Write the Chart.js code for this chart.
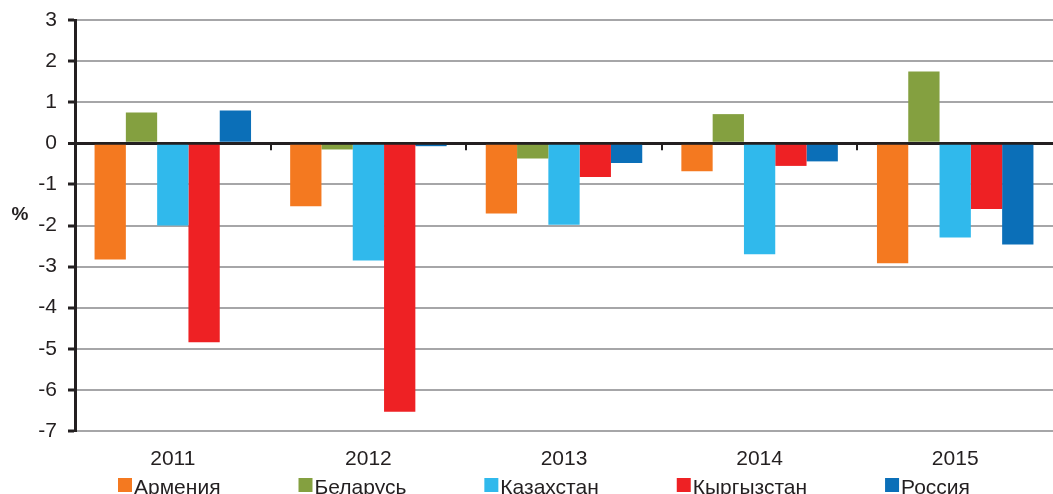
<!DOCTYPE html>
<html>
<head>
<meta charset="utf-8">
<script src="https://cdn.jsdelivr.net/npm/chart.js@4.4.1/dist/chart.umd.min.js"></script>
<style>
  html, body { margin: 0; padding: 0; background: #fff; overflow: hidden; }
  #wrap { position: relative; width: 1053px; height: 494px; }
</style>
</head>
<body>
<div id="wrap"><canvas id="chart"></canvas></div>
<script>
// ── Data ─────────────────────────────────────────
const years = ['2011', '2012', '2013', '2014', '2015'];
const armenia    = [-2.83, -1.53, -1.71, -0.68, -2.92];
const belarus    = [0.75, -0.15, -0.37, 0.71, 1.75];
const kazakhstan = [-2.0, -2.85, -1.98, -2.7, -2.29];
const kyrgyzstan = [-4.84, -6.53, -0.82, -0.55, -1.6];
const russia     = [0.8, -0.07, -0.48, -0.44, -2.46];
const yTicks = [3, 2, 1, 0, -1, -2, -3, -4, -5, -6, -7];

const FONT = "'Liberation Sans', Arial, sans-serif";
const INK = '#231f20';

// ── Extra marks: "%" label, boundary ticks, bottom legend ──
const extras = {
    id: 'extras',
    afterDraw(chart) {
        const { ctx, scales: { x, y } } = chart;
        const zeroY = y.getPixelForValue(0);
        ctx.save();

        // short ticks on the zero line between year groups
        ctx.strokeStyle = INK;
        ctx.lineWidth = 2;
        for (let i = 1; i < years.length; i++) {
            const bx = Math.round((x.getPixelForValue(i - 1) + x.getPixelForValue(i)) / 2);
            ctx.beginPath();
            ctx.moveTo(bx, zeroY);
            ctx.lineTo(bx, zeroY + 7);
            ctx.stroke();
        }

        // axis unit
        ctx.fillStyle = INK;
        ctx.font = 'bold 19px ' + FONT;
        ctx.textAlign = 'center';
        ctx.textBaseline = 'middle';
        ctx.fillText('%', 20, 215);

        // legend row along the bottom edge
        ctx.font = '21px ' + FONT;
        ctx.textAlign = 'left';
        ctx.textBaseline = 'alphabetic';
        let lx = 118;
        const baseY = 494;
        chart.data.datasets.forEach(ds => {
            ctx.fillStyle = ds.backgroundColor;
            ctx.fillRect(lx, baseY - 16, 14, 14);
            ctx.fillStyle = INK;
            ctx.fillText(ds.label, lx + 16, baseY);
            lx += 16 + ctx.measureText(ds.label).width + 78;
        });
        ctx.restore();
    }
};

const mk = (label, data, color) => ({
    label, data,
    backgroundColor: color,
    borderWidth: 0,
    categoryPercentage: 0.8,
    barPercentage: 1.0
});

new Chart(document.getElementById('chart'), {
    type: 'bar',
    data: {
        labels: years,
        datasets: [
            mk('Армения', armenia, '#f47920'),
            mk('Беларусь', belarus, '#84a040'),
            mk('Казахстан', kazakhstan, '#30b9ec'),
            mk('Кыргызстан', kyrgyzstan, '#ee2124'),
            mk('Россия', russia, '#0b6fb8')
        ]
    },
    options: {
        responsive: true,
        maintainAspectRatio: false,
        animation: false,
        layout: { padding: { top: 20, right: 0, left: 0, bottom: 23 } },
        plugins: {
            legend: { display: false },
            tooltip: { enabled: false }
        },
        scales: {
            x: {
                afterFit: s => { s.height = 40; },
                grid: { display: false },
                border: { display: false },
                ticks: { color: INK, font: { family: FONT, size: 21 }, padding: 8 }
            },
            y: {
                min: -7,
                max: 3,
                afterFit: s => { s.width = 75; },
                afterBuildTicks: s => { s.ticks = yTicks.map(v => ({ value: v })); },
                border: { display: true, color: INK, width: 3 },
                grid: {
                    color: ctx => ctx.tick && ctx.tick.value === 0 ? INK : '#a6a6a8',
                    lineWidth: ctx => ctx.tick && ctx.tick.value === 0 ? 3 : 2,
                    tickColor: INK,
                    tickLength: 7,
                    tickWidth: 3
                },
                ticks: { color: INK, font: { family: FONT, size: 21, lineHeight: 0.8 }, padding: 11 }
            }
        }
    },
    plugins: [extras]
});
</script>
</body>
</html>
